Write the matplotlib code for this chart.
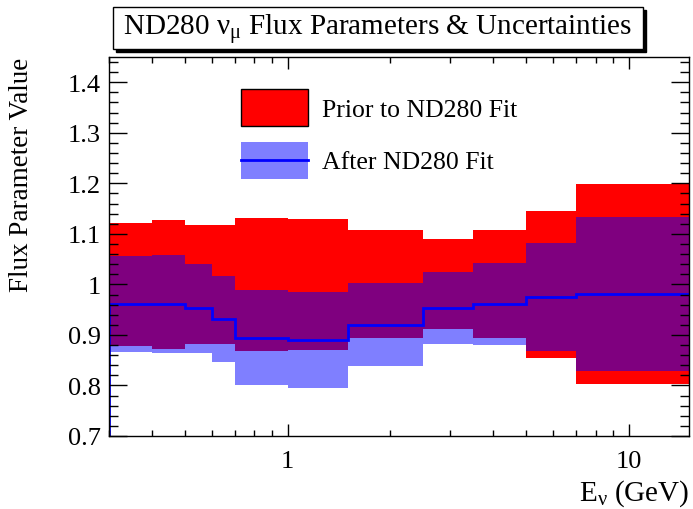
import matplotlib
matplotlib.use('Agg')
import matplotlib.pyplot as plt
import matplotlib.patches as mpatches
from matplotlib.lines import Line2D
from matplotlib.legend_handler import HandlerLine2D
from matplotlib.ticker import FuncFormatter, MultipleLocator, LogLocator, NullFormatter, FixedLocator
import numpy as np

plt.rcParams['font.family'] = ['Liberation Serif', 'DejaVu Serif']
plt.rcParams['mathtext.fontset'] = 'custom'
plt.rcParams['mathtext.rm'] = 'Liberation Serif'
plt.rcParams['mathtext.it'] = 'Liberation Serif'

# flux bin edges (GeV)
edges = [0.3, 0.4, 0.5, 0.6, 0.7, 1.0, 1.5, 2.5, 3.5, 5.0, 7.0, 30.0]
# prior: nominal 1 with uncertainty
prior_val = [1.0] * 11
prior_err = [0.122, 0.128, 0.118, 0.118, 0.131, 0.129, 0.107, 0.089, 0.107, 0.146, 0.198]
# after ND280 fit
post_val = [0.961, 0.962, 0.953, 0.932, 0.894, 0.890, 0.920, 0.954, 0.962, 0.975, 0.981]
post_err = [0.095, 0.097, 0.088, 0.085, 0.094, 0.095, 0.082, 0.071, 0.081, 0.106, 0.152]

prior_val = np.array(prior_val)
prior_err = np.array(prior_err)
post_val = np.array(post_val)
post_err = np.array(post_err)


# legend line centred on the patch box
class CenteredLine(HandlerLine2D):
    def create_artists(self, legend, orig_handle, xdescent, ydescent, width, height,
                       fontsize, trans):
        arts = super().create_artists(legend, orig_handle, xdescent, ydescent, width,
                                      height, fontsize, trans)
        for a in arts:
            a.set_ydata(np.full_like(np.asarray(a.get_xdata(), float), height / 2 - ydescent))
        return arts


W, H = 693, 510
fig = plt.figure(figsize=(W / 100, H / 100), dpi=100)
ax = fig.add_axes([109 / W, 1 - 437 / H, 580 / W, 379 / H])

ax.stairs(prior_val + prior_err, edges, baseline=prior_val - prior_err, fill=True,
          facecolor='red', edgecolor='none')
ax.stairs(post_val + post_err, edges, baseline=post_val - post_err, fill=True,
          facecolor='blue', alpha=0.5, edgecolor='none')
ax.stairs(post_val, edges, baseline=0.0, color='blue', lw=2)

ax.set_xscale('log')
ax.set_xlim(0.3, 15)
ax.set_ylim(0.7, 1.45)

ax.xaxis.set_major_locator(FixedLocator([1, 10]))
ax.xaxis.set_minor_locator(LogLocator(base=10, subs=np.arange(2, 10)))
ax.xaxis.set_major_formatter(FuncFormatter(lambda v, p: '%g' % v))
ax.xaxis.set_minor_formatter(NullFormatter())
ax.yaxis.set_major_locator(MultipleLocator(0.1))
ax.yaxis.set_minor_locator(MultipleLocator(0.02))
ax.yaxis.set_major_formatter(FuncFormatter(lambda v, p: '%g' % round(v, 2)))

ax.tick_params(axis='both', which='both', direction='in', top=True, right=True,
               labelsize=19, width=1)
ax.tick_params(axis='y', which='major', length=13, pad=6)
ax.tick_params(axis='y', which='minor', length=6.5)
ax.tick_params(axis='x', which='major', length=8.5, pad=10)
ax.tick_params(axis='x', which='minor', length=4.3)
for s in ax.spines.values():
    s.set_linewidth(1)

# legend
h_prior = mpatches.Patch(facecolor='red', edgecolor='black', lw=1)
post_line = Line2D([], [], color='blue', lw=2)
h_post = (mpatches.Patch(facecolor='blue', alpha=0.5, edgecolor='none'), post_line)
ax.legend([h_prior, h_post], ['Prior to ND280 Fit', 'After ND280 Fit'],
          loc='upper left', bbox_to_anchor=((241 - 109) / 580, (437 - 90) / 379),
          frameon=False, fontsize=18.5, handlelength=2.6, handleheight=1.85,
          labelspacing=0.6, handletextpad=0.55, borderpad=0, borderaxespad=0,
          handler_map={post_line: CenteredLine()})

# title box with shadow
fig.patches.append(mpatches.Rectangle((116 / W, 1 - 53 / H), 530 / W, 42 / H,
                                      transform=fig.transFigure, facecolor='black',
                                      edgecolor='black', zorder=1))
fig.patches.append(mpatches.Rectangle((113 / W, 1 - 50 / H), 530 / W, 42 / H,
                                      transform=fig.transFigure, facecolor='white',
                                      edgecolor='black', lw=1, zorder=2))
fig.text(377 / W, 1 - 29 / H, r'ND280 $\mathrm{\nu_{\mu}}$ Flux Parameters & Uncertainties',
         ha='center', va='center', fontsize=21, zorder=3)

fig.text(689 / W, 1 - 494 / H, r'E$_{\mathrm{\nu}}$ (GeV)', ha='right', va='center', fontsize=21)
fig.text(22 / W, 1 - 58 / H, 'Flux Parameter Value', ha='center', va='top',
         rotation=90, fontsize=19.5)

fig.savefig('out.png', dpi=100)
